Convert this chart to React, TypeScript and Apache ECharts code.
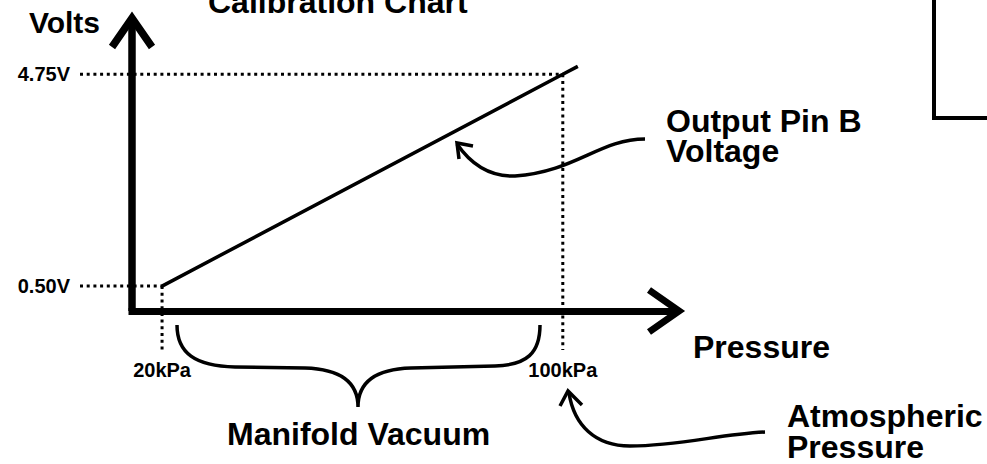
import React, { useEffect, useRef } from "react";
import * as echarts from "echarts";

// ---- data ----
const pressureKPa = [20, 100, 103];
const outputVolts = [0.5, 4.75, 4.91];
const xTickValues = [20, 100];
const xTickLabels = ["20kPa", "100kPa"];
const yTickValues = [0.5, 4.75];
const yTickLabels = ["0.50V", "4.75V"];
const titleText = "Calibration Chart";
const xAxisName = "Pressure";
const yAxisName = "Volts";
const outputLabel = ["Output Pin B", "Voltage"];
const vacuumLabel = "Manifold Vacuum";
const atmosphericLabel = ["Atmospheric", "Pressure"];

const FONT = '"Liberation Sans", Arial, Helvetica, sans-serif';

echarts.graphic.registerShape(
  "brace",
  echarts.graphic.extendPath(
    "M177,325 C177,353 195,366 235,367 L305,368 C340,369 358,382 358,407 M358,407 C358,382 376,369 411,368 L495,366 C527,365 540,353 540,325",
    {}
  )
);
echarts.graphic.registerShape(
  "pointerOutput",
  echarts.graphic.extendPath("M645,139 C600,139 575,172 515,176 C485,177 468,160 457,144", {})
);
echarts.graphic.registerShape(
  "pointerAtmos",
  echarts.graphic.extendPath("M765,432 C720,434 680,446 630,446 C595,446 574,425 569,393", {})
);

export default function App() {
  const ref = useRef<HTMLDivElement>(null);
  useEffect(() => {
    document.body.style.margin = "0";
    const chart = echarts.init(ref.current!, null, { renderer: "svg" });
    const lineData = pressureKPa.map((p, i) => [p, outputVolts[i]]);
    const bold = (size: number) => ({
      fontSize: size,
      fontWeight: "bold",
      fontFamily: FONT,
      color: "#000",
    });
    chart.setOption({
      animation: false,
      backgroundColor: "#fff",
      title: {
        text: titleText,
        left: 208,
        top: -14.5,
        padding: 0,
        textStyle: { ...bold(32), lineHeight: 32 },
      },
      grid: { left: 132, top: 22, width: 541, height: 289, outerBoundsMode: "none" },
      xAxis: {
        type: "value",
        min: 14,
        max: 122,
        name: xAxisName,
        nameLocation: "end",
        nameGap: 20,
        nameTextStyle: {
          ...bold(32),
          align: "left",
          verticalAlign: "top",
          lineHeight: 32,
          padding: [19.5, 0, 0, 0],
        },
        axisLine: {
          show: true,
          onZero: false,
          lineStyle: { color: "#000", width: 7, cap: "square" },
        },
        axisTick: { show: false },
        splitLine: { show: false },
        axisLabel: {
          customValues: xTickValues,
          formatter: (v: number) => {
            const i = xTickValues.indexOf(v);
            return i >= 0 ? xTickLabels[i] : "";
          },
          margin: 49,
          ...bold(20),
          lineHeight: 20,
        },
      },
      yAxis: {
        type: "value",
        min: 0,
        max: 5.8,
        name: yAxisName,
        nameLocation: "end",
        nameGap: 0,
        nameTextStyle: {
          ...bold(30),
          align: "right",
          verticalAlign: "middle",
          padding: [0, 32, 0, 0],
        },
        axisLine: {
          show: true,
          onZero: false,
          lineStyle: { color: "#000", width: 7.5, cap: "butt" },
        },
        axisTick: { show: false },
        splitLine: { show: false },
        axisLabel: {
          customValues: yTickValues,
          formatter: (v: number) => {
            const i = yTickValues.indexOf(v);
            return i >= 0 ? yTickLabels[i] : "";
          },
          margin: 62,
          ...bold(20),
        },
      },
      series: [
        {
          type: "line",
          data: lineData,
          symbol: "none",
          showSymbol: false,
          silent: true,
          lineStyle: { color: "#000", width: 3.5 },
        },
      ],
    });

    const pLow = chart.convertToPixel({ gridIndex: 0 }, [pressureKPa[0], outputVolts[0]]) as number[];
    const pHigh = chart.convertToPixel({ gridIndex: 0 }, [pressureKPa[1], outputVolts[1]]) as number[];
    const dot = { stroke: "#000", lineWidth: 3, lineDash: [3, 3.7] };
    const strokeStyle = (w: number) => ({ stroke: "#000", lineWidth: w, fill: "none" });
    const txt = (text: string, x: number, y: number, lineHeight = 32, size = 32) => ({
      type: "text",
      x,
      y,
      silent: true,
      style: {
        text,
        fill: "#000",
        fontSize: size,
        fontWeight: "bold",
        fontFamily: FONT,
        lineHeight,
        align: "left",
        verticalAlign: "middle",
      },
    });

    chart.setOption({
      graphic: [
        { type: "line", silent: true, shape: { x1: 80, y1: pHigh[1], x2: pHigh[0], y2: pHigh[1] }, style: dot },
        { type: "line", silent: true, shape: { x1: pHigh[0], y1: pHigh[1], x2: pHigh[0], y2: 350 }, style: dot },
        { type: "line", silent: true, shape: { x1: 80, y1: pLow[1], x2: pLow[0], y2: pLow[1] }, style: dot },
        { type: "line", silent: true, shape: { x1: pLow[0], y1: pLow[1], x2: pLow[0], y2: 350 }, style: dot },
        // axis arrow heads
        {
          type: "polyline",
          silent: true,
          shape: { points: [[112, 47], [132, 18], [152, 47]] },
          style: { stroke: "#000", lineWidth: 7.5, lineJoin: "miter", fill: null },
        },
        {
          type: "polyline",
          silent: true,
          shape: { points: [[649, 290], [679, 311], [649, 332]] },
          style: { stroke: "#000", lineWidth: 7, lineJoin: "miter", fill: null },
        },
        // brace and pointers
        { type: "brace", x: 0, y: 0, silent: true, style: strokeStyle(3.5) },
        { type: "pointerOutput", x: 0, y: 0, silent: true, style: strokeStyle(3.5) },
        {
          type: "polyline",
          silent: true,
          shape: { points: [[473, 146], [457, 143], [459, 159]] },
          style: { stroke: "#000", lineWidth: 3.5, fill: null },
        },
        { type: "pointerAtmos", x: 0, y: 0, silent: true, style: strokeStyle(3.5) },
        {
          type: "polyline",
          silent: true,
          shape: { points: [[560, 406], [568, 391], [582, 405]] },
          style: { stroke: "#000", lineWidth: 3.5, fill: null },
        },
        // top-right box corner
        {
          type: "polyline",
          silent: true,
          shape: { points: [[934, -5], [934, 118], [992, 118]] },
          style: { stroke: "#000", lineWidth: 4, fill: null },
        },
        txt(outputLabel.join("\n"), 666, 135.75, 29.5),
        txt(vacuumLabel, 227, 434),
        txt(atmosphericLabel.join("\n"), 787, 431.25, 30.5),
      ],
    });

    return () => chart.dispose();
  }, []);
  return <div ref={ref} style={{ width: 987, height: 464 }} />;
}
